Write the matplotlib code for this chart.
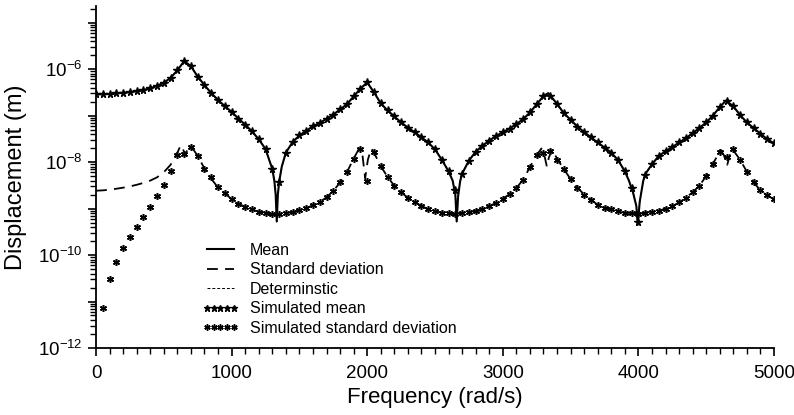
import numpy as np
import matplotlib
matplotlib.use("Agg")
import matplotlib.pyplot as plt
from matplotlib.ticker import FixedLocator, LogLocator, FuncFormatter, MultipleLocator, NullFormatter

plt.rcParams['font.family'] = ['Liberation Sans', 'DejaVu Sans']
plt.rcParams['mathtext.fontset'] = 'custom'
plt.rcParams['mathtext.rm'] = 'Liberation Sans'
plt.rcParams['mathtext.it'] = 'Liberation Sans:italic'
plt.rcParams['mathtext.bf'] = 'Liberation Sans:bold'

# ---------------- data (log10 of displacement in m) ----------------
mean_freq = [0, 50, 100, 150, 200, 250, 300, 350, 400, 450, 500, 550, 600, 650, 700, 750,
             800, 850, 900, 950, 1000, 1050, 1100, 1150, 1200, 1250, 1300, 1315, 1325, 1333,
             1341, 1351, 1370, 1400, 1450, 1500, 1550, 1600, 1650, 1700, 1750, 1800, 1850,
             1900, 1950, 2000, 2050, 2100, 2150, 2200, 2250, 2300, 2350, 2400, 2450, 2500,
             2550, 2600, 2630, 2650, 2660, 2670, 2685, 2700, 2750, 2800, 2850, 2900, 2950,
             3000, 3050, 3100, 3150, 3200, 3250, 3300, 3335, 3350, 3400, 3450, 3500, 3550,
             3600, 3650, 3700, 3750, 3800, 3850, 3900, 3930, 3960, 3985, 3995, 4010, 4036,
             4060, 4100, 4150, 4200, 4250, 4300, 4350, 4400, 4450, 4500, 4550, 4600, 4645,
             4700, 4750, 4800, 4850, 4900, 4950, 5000]
mean_log10 = [-6.545, -6.544, -6.538, -6.525, -6.51, -6.495, -6.475, -6.452, -6.416, -6.36,
              -6.295, -6.19, -6.03, -5.83, -5.94, -6.165, -6.345, -6.52, -6.665, -6.80,
              -6.92, -7.065, -7.195, -7.34, -7.51, -7.72, -8.15, -8.40, -8.70, -9.28,
              -8.70, -8.42, -8.10, -7.80, -7.57, -7.43, -7.33, -7.23, -7.16, -7.07, -6.98,
              -6.87, -6.76, -6.59, -6.42, -6.29, -6.50, -6.74, -6.89, -7.02, -7.15, -7.26,
              -7.36, -7.47, -7.58, -7.73, -7.95, -8.20, -8.40, -8.70, -9.28, -8.75, -8.42,
              -8.25, -7.97, -7.78, -7.65, -7.54, -7.44, -7.36, -7.28, -7.185, -7.08, -6.935,
              -6.76, -6.58, -6.52, -6.57, -6.75, -6.95, -7.09, -7.24, -7.355, -7.47, -7.58,
              -7.69, -7.80, -7.96, -8.20, -8.40, -8.65, -8.95, -9.35, -8.85, -8.40, -8.22,
              -8.05, -7.87, -7.77, -7.68, -7.58, -7.49, -7.38, -7.27, -7.15, -7.00, -6.82,
              -6.68, -6.80, -6.99, -7.15, -7.27, -7.39, -7.51, -7.60]

std_freq = [0, 50, 100, 150, 200, 250, 300, 350, 400, 450, 500, 550, 600, 625, 645, 660, 675,
            693, 720, 750, 800, 850, 900, 950, 1000, 1050, 1100, 1150, 1200, 1250, 1300, 1350,
            1400, 1450, 1500, 1550, 1600, 1650, 1700, 1750, 1800, 1850, 1900, 1940, 1965, 1985,
            2005, 2030, 2050, 2100, 2150, 2200, 2250, 2300, 2350, 2400, 2450, 2500, 2550, 2600,
            2650, 2700, 2750, 2800, 2850, 2900, 2950, 3000, 3050, 3100, 3150, 3200, 3250, 3285,
            3310, 3325, 3340, 3365, 3400, 3450, 3500, 3550, 3600, 3650, 3700, 3750, 3800, 3850,
            3900, 3950, 4000, 4050, 4100, 4150, 4200, 4250, 4300, 4350, 4400, 4450, 4500, 4550,
            4605, 4630, 4655, 4675, 4690, 4750, 4800, 4850, 4900, 4950, 5000]
std_log10 = [-8.617, -8.61, -8.595, -8.575, -8.552, -8.525, -8.49, -8.45, -8.40, -8.33, -8.22,
             -8.06, -7.80, -7.64, -7.75, -7.85, -7.72, -7.66, -7.74, -7.87, -8.14, -8.36, -8.55,
             -8.67, -8.80, -8.90, -8.96, -9.02, -9.07, -9.09, -9.12, -9.12, -9.10, -9.08, -9.04,
             -8.99, -8.93, -8.86, -8.76, -8.62, -8.44, -8.22, -7.93, -7.71, -7.85, -8.35, -7.95,
             -7.71, -7.80, -8.09, -8.32, -8.51, -8.65, -8.77, -8.87, -8.94, -9.02, -9.06, -9.09,
             -9.10, -9.12, -9.10, -9.08, -9.05, -9.00, -8.95, -8.88, -8.79, -8.69, -8.56, -8.38,
             -8.11, -7.85, -7.71, -7.90, -8.10, -7.90, -7.73, -7.93, -8.15, -8.37, -8.55, -8.70,
             -8.81, -8.92, -8.98, -9.02, -9.06, -9.09, -9.10, -9.12, -9.09, -9.07, -9.05, -9.00,
             -8.95, -8.87, -8.77, -8.65, -8.51, -8.30, -8.04, -7.74, -7.85, -8.06, -7.85, -7.71,
             -7.95, -8.21, -8.44, -8.61, -8.72, -8.80]

# deterministic response: indistinguishable from the mean in the figure
determ_freq = mean_freq
determ_log10 = mean_log10

sim_mean_freq = list(range(0, 5001, 50))
sim_mean_log10 = [-6.545, -6.544, -6.538, -6.525, -6.51, -6.495, -6.475, -6.452, -6.416, -6.36,
                  -6.295, -6.19, -6.03, -5.83, -5.94, -6.165, -6.345, -6.52, -6.665, -6.80,
                  -6.92, -7.065, -7.195, -7.34, -7.51, -7.72, -8.15, -8.42, -7.80, -7.57,
                  -7.43, -7.33, -7.23, -7.16, -7.07, -6.98, -6.87, -6.76, -6.59, -6.42,
                  -6.29, -6.50, -6.74, -6.89, -7.02, -7.15, -7.26, -7.36, -7.47, -7.58,
                  -7.73, -7.95, -8.20, -8.60, -8.25, -7.97, -7.78, -7.65, -7.54, -7.44,
                  -7.36, -7.28, -7.185, -7.08, -6.935, -6.76, -6.58, -6.57, -6.75, -6.95,
                  -7.09, -7.24, -7.355, -7.47, -7.58, -7.69, -7.80, -7.96, -8.20, -8.55,
                  -9.30, -8.28, -8.05, -7.87, -7.77, -7.68, -7.58, -7.49, -7.38, -7.27,
                  -7.15, -7.00, -6.82, -6.685, -6.80, -6.99, -7.15, -7.27, -7.39, -7.51,
                  -7.60]

sim_std_freq = list(range(50, 5001, 50))
sim_std_log10 = [-11.15, -10.52, -10.16, -9.86, -9.62, -9.39, -9.18, -8.96, -8.73, -8.49,
                 -8.20, -7.85, -7.83, -7.67, -7.87, -8.14, -8.33, -8.53, -8.67, -8.80,
                 -8.90, -8.96, -9.02, -9.07, -9.09, -9.12, -9.12, -9.10, -9.08, -9.04,
                 -8.99, -8.93, -8.86, -8.76, -8.62, -8.44, -8.22, -7.93, -7.73, -8.40,
                 -7.78, -8.09, -8.32, -8.51, -8.65, -8.77, -8.87, -8.94, -9.02, -9.06,
                 -9.09, -9.10, -9.12, -9.10, -9.08, -9.05, -9.00, -8.95, -8.88, -8.79,
                 -8.69, -8.56, -8.38, -8.11, -7.85, -7.80, -7.77, -7.95, -8.15, -8.37,
                 -8.55, -8.70, -8.81, -8.92, -8.98, -9.02, -9.06, -9.09, -9.10, -9.12,
                 -9.09, -9.07, -9.05, -9.00, -8.95, -8.87, -8.77, -8.65, -8.51, -8.30,
                 -8.04, -7.78, -7.90, -7.72, -7.95, -8.21, -8.44, -8.61, -8.72, -8.80]

labels = ["Mean", "Standard deviation", "Determinstic", "Simulated mean",
          "Simulated standard deviation"]
x_label = "Frequency (rad/s)"
y_label = "Displacement (m)"

# ---------------- figure ----------------
fig = plt.figure(figsize=(7.94, 4.15), dpi=100)
ax = fig.add_axes([96 / 794, 1 - 348 / 415, (774 - 96) / 794, (348 - 6) / 415])

def pw(a):
    return np.power(10.0, np.asarray(a, dtype=float))

ax.plot(mean_freq, pw(mean_log10), color='black', lw=1.5, label=labels[0])
ax.plot(std_freq, pw(std_log10), color='black', lw=1.3, dashes=(6, 4), label=labels[1])
ax.plot(determ_freq, pw(determ_log10), color='black', lw=0.7, dashes=(3, 2), label=labels[2])
ax.plot(sim_mean_freq, pw(sim_mean_log10), linestyle='none', marker='*', ms=5.5,
        color='black', label=labels[3])
ax.plot(sim_std_freq, pw(sim_std_log10), linestyle='none', marker=(6, 2, 0), ms=5,
        mew=1.1, color='black', label=labels[4])

ax.set_yscale('log')
ax.set_xlim(0, 5000)
ax.set_ylim(1e-12, 10 ** -4.645)

ax.xaxis.set_major_locator(MultipleLocator(1000))
ax.xaxis.set_minor_locator(MultipleLocator(100))
ax.yaxis.set_major_locator(FixedLocator([10.0 ** e for e in range(-12, -4)]))
ax.yaxis.set_minor_locator(LogLocator(base=10, subs=np.arange(2, 10), numticks=20))
ax.yaxis.set_minor_formatter(NullFormatter())

def yfmt(v, pos):
    e = int(round(np.log10(v)))
    return r'$10^{%d}$' % e if e % 2 == 0 else ''
ax.yaxis.set_major_formatter(FuncFormatter(yfmt))

for s in ['top', 'right']:
    ax.spines[s].set_visible(False)
for s in ['left', 'bottom']:
    ax.spines[s].set_linewidth(1.3)

ax.tick_params(axis='both', which='major', direction='out', length=6, width=1.2,
               labelsize=13.5, colors='black')
ax.tick_params(axis='both', which='minor', direction='out', length=4, width=1.0)
ax.tick_params(axis='x', which='major', pad=6)

ax.set_xlabel(x_label, fontsize=16, labelpad=4)
ax.set_ylabel(y_label, fontsize=17, labelpad=8)

leg = ax.legend(loc='upper left', bbox_to_anchor=(202 / 794, 1 - 243 / 415),
                bbox_transform=fig.transFigure, frameon=False, fontsize=11.5,
                numpoints=5, handlelength=2.3, handletextpad=0.7, labelspacing=0.28,
                borderpad=0, borderaxespad=0, markerscale=0.9)

fig.savefig('out.png', dpi=100)
